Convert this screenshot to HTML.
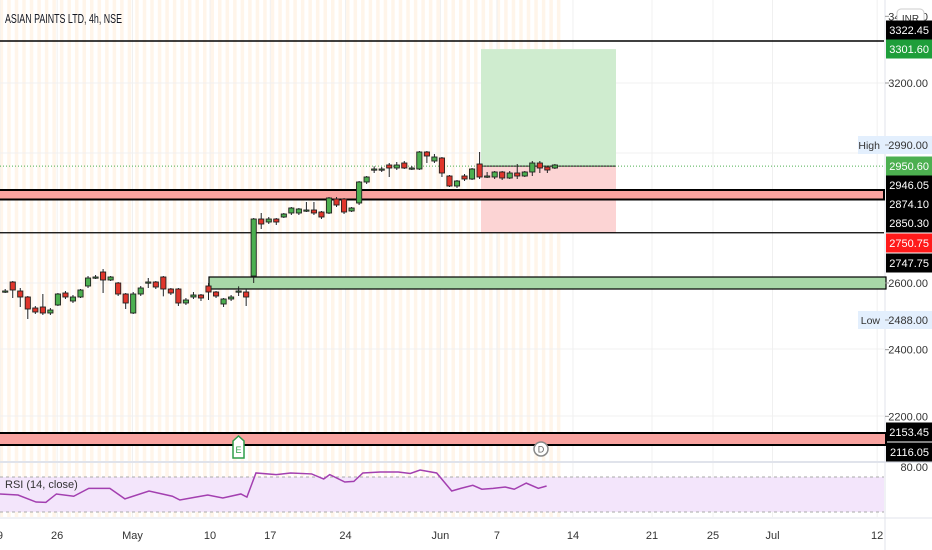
<!DOCTYPE html>
<html><head><meta charset="utf-8"><style>
html,body{margin:0;padding:0;background:#fff;width:932px;height:550px;overflow:hidden}
svg{display:block;font-family:"Liberation Sans",sans-serif}
</style></head><body>
<svg id="c" width="932" height="550" viewBox="0 0 932 550" xmlns="http://www.w3.org/2000/svg">
<g id="bg"></g><g id="grid"></g><g id="levels"></g><g id="candles"></g><g id="rsi"></g><g id="axis"></g>
</svg>
<script>
const opens=[2576,2603,2576,2558,2525,2528,2510,2534,2570,2546,2558,2591,2618,2633,2609,2600,2567,2510,2567,2603,2603,2618,2582,2582,2540,2558,2564,2591,2573,2537,2552,2576,2573,2621,2792,2783,2792,2798,2810,2810,2819,2819,2813,2810,2852,2852,2816,2840,2903,2942,2942,2954,2945,2960,2945,2942,2993,2966,2975,2921,2891,2921,2912,2957,2921,2918,2933,2915,2930,2921,2933,2960,2948,2945];
const closes=[2576,2579,2558,2522,2513,2510,2519,2567,2558,2558,2579,2615,2618,2609,2618,2567,2540,2567,2585,2603,2588,2582,2570,2540,2549,2564,2555,2573,2561,2552,2558,2576,2558,2792,2777,2792,2783,2807,2825,2822,2819,2810,2798,2855,2834,2813,2825,2903,2918,2942,2942,2945,2954,2945,2945,2993,2981,2978,2930,2891,2906,2912,2942,2918,2921,2933,2915,2930,2921,2933,2960,2945,2939,2954];
const highs=[2582,2606,2585,2561,2531,2567,2525,2570,2576,2564,2582,2621,2624,2642,2621,2603,2570,2573,2591,2615,2606,2621,2585,2585,2555,2573,2567,2600,2576,2555,2564,2590,2582,2795,2810,2798,2795,2810,2828,2825,2843,2843,2816,2858,2858,2855,2828,2906,2921,2950,2948,2960,2963,2966,2951,2996,2996,2987,2978,2924,2909,2927,2945,2993,2933,2936,2936,2936,2957,2936,2966,2966,2951,2957];
const lows=[2570,2555,2528,2492,2507,2504,2504,2531,2552,2540,2555,2585,2612,2570,2606,2561,2522,2507,2561,2585,2582,2560,2564,2531,2534,2552,2546,2549,2555,2528,2546,2561,2531,2600,2762,2777,2774,2795,2804,2804,2813,2804,2792,2807,2828,2807,2813,2834,2897,2930,2933,2918,2939,2942,2939,2939,2960,2960,2918,2888,2885,2906,2909,2912,2915,2912,2909,2912,2912,2918,2921,2930,2930,2942];
const rsiIdx=[-0.7,1.7,4.1,5.4,6.8,9.1,11.1,13.9,15.9,19.1,22.2,23.2,25.3,26.9,28.9,31.3,32.1,33.3,36,37.9,40.7,42.3,43.1,45.1,46.3,47.5,49.8,52.2,53.8,55.1,57.3,59.3,60.5,62.1,63.3,64.8,66.4,67.6,69.2,70.8,71.9];
const rsiVal=[50.6,49.4,41.4,41,50.6,48,57,57,45,54,48,43.7,47,49.4,46,50.6,47,74.6,72.7,74.6,73.5,67.7,72.7,64.3,65,74.6,75.7,75.7,74,78,74.6,54,57,60.5,56,57,58.6,56,63,57,59.7];
const dateLabels=["9","26","May","10","17","24","Jun","7","14","21","25","Jul","12"];
const dateIdx=[-0.7,6.9,16.9,27.2,35.2,45.2,57.8,65.3,75.4,85.9,94,101.9,115.8];
const priceTicks=[3400,3200,2600,2400,2200];

const NS="http://www.w3.org/2000/svg";
const X=i=>5.2+i*7.53;
const Y=p=>83+(3200-p)/3;
const RY=v=>477+(70-v)*0.875;
function mk(parent,tag,attrs,txt){const e=document.createElementNS(NS,tag);for(const k in attrs)e.setAttribute(k,attrs[k]);if(txt!==undefined)e.textContent=txt;document.getElementById(parent).appendChild(e);return e;}

for(let i=-1;i<74;i++){
  const s=mk('bg','rect',{x:X(i)+2,y:0,width:3.5,height:517,fill:'#fff5ea'});
  
  
}
[83,153,283,349,416].forEach(y=>{mk('grid','line',{x1:0,x2:884,y1:y,y2:y,stroke:'#f0f0f0'});});
dateIdx.forEach(i=>{mk('grid','line',{x1:X(i),x2:X(i),y1:0,y2:517,stroke:'#f0f0f0'});});
mk('grid','line',{x1:885,x2:885,y1:0,y2:550,stroke:'#e0e3eb'});
mk('grid','line',{x1:0,x2:932,y1:462,y2:462,stroke:'#e0e3eb','stroke-width':2});
mk('grid','line',{x1:0,x2:932,y1:518,y2:518,stroke:'#e0e3eb'});

let e;
e=mk('levels','rect',{x:481,y:Y(3301.6),width:135,height:Y(2950.6)-Y(3301.6),fill:'#cfeccf'});

e=mk('levels','rect',{x:481,y:Y(2950.6),width:135,height:Y(2750.75)-Y(2950.6),fill:'#fcd4d4'});

mk('levels','line',{x1:481,x2:616,y1:Y(2950.6),y2:Y(2950.6),stroke:'#333','stroke-width':1.2});
mk('levels','line',{x1:0,x2:884,y1:Y(2950.6),y2:Y(2950.6),stroke:'#4caf50','stroke-dasharray':'1 2'});
e=mk('levels','line',{x1:0,x2:884,y1:41,y2:41,stroke:'#000','stroke-width':1.5});

e=mk('levels','rect',{x:-2,y:190,width:886,height:9.5,fill:'#f9a3a0',stroke:'#000','stroke-width':2});

e=mk('levels','line',{x1:0,x2:884,y1:Y(2750.75),y2:Y(2750.75),stroke:'#000','stroke-width':1.2});

e=mk('levels','rect',{x:209,y:277,width:677,height:12,fill:'#a8d8a8',stroke:'#000','stroke-width':1.2});

e=mk('levels','rect',{x:-2,y:433,width:888,height:12,fill:'#f9a3a0',stroke:'#000','stroke-width':2});


for(let i=0;i<opens.length;i++){
  const up=closes[i]>=opens[i];const col=up?'#4caf50':'#e0352b';const x=X(i);
  const w=mk('candles','line',{x1:x,x2:x,y1:Y(highs[i]),y2:Y(lows[i]),stroke:'#222','stroke-width':1});
  
  const t=Y(Math.max(opens[i],closes[i]));const h=Math.max(1.2,Y(Math.min(opens[i],closes[i]))-t);
  const b=mk('candles','rect',{x:x-2.6,y:t,width:5.2,height:h,fill:col,stroke:'#222','stroke-width':0.9});
  
}
e=mk('candles','path',{d:'M233,441 L238.5,436 L244,441 L244,458 L233,458 Z',fill:'#fff',stroke:'#2e9e4a','stroke-width':1.5});

mk('candles','text',{x:238.5,y:453,'font-size':9,'text-anchor':'middle',fill:'#2e9e4a'},'E');
e=mk('candles','circle',{cx:541,cy:449,r:7,fill:'#fff',stroke:'#888','stroke-width':1.5});

mk('candles','text',{x:541,y:452.5,'font-size':9,'text-anchor':'middle',fill:'#666'},'D');

e=mk('rsi','rect',{x:0,y:RY(70),width:884,height:RY(30)-RY(70),fill:'#f3e5fb'});

[70,30].forEach(v=>mk('rsi','line',{x1:0,x2:884,y1:RY(v),y2:RY(v),stroke:'#aaa','stroke-dasharray':'3 3'}));
e=mk('rsi','polyline',{points:rsiIdx.map((i,k)=>X(i)+','+RY(rsiVal[k])).join(' '),fill:'none',stroke:'#a33fb0','stroke-width':1.5});

e=mk('rsi','text',{x:5,y:488,'font-size':11,fill:'#333'},'RSI (14, close)');


e=mk('axis','text',{x:5,y:23,'font-size':13,fill:'#131722','textLength':117,'lengthAdjust':'spacingAndGlyphs'},'ASIAN PAINTS LTD, 4h, NSE');


dateLabels.forEach((l,k)=>{const t=mk('axis','text',{x:X(dateIdx[k]),y:539,'font-size':11,'text-anchor':'middle',fill:'#333'},l);
 });

priceTicks.forEach(p=>{const y=Y(p);const t=mk('axis','text',{x:928,y:y+4,'font-size':11,'text-anchor':'end',fill:'#333'},p.toFixed(2));
 
 mk('axis','line',{x1:885,x2:889,y1:y,y2:y,stroke:'#999'});});
mk('axis','text',{x:928,y:471,'font-size':11,'text-anchor':'end',fill:'#333'},'80.00');
e=mk('axis','rect',{x:897,y:9,width:27,height:18,rx:4,fill:'#fff',stroke:'#ccc'});

mk('axis','text',{x:910.5,y:22,'font-size':10,'text-anchor':'middle',fill:'#333'},'INR');
[[145,'High','2990.00'],[320,'Low','2488.00']].forEach(([y,a,b])=>{
 mk('axis','rect',{x:858,y:y-9,width:74,height:18,fill:'#e3effd'});
 mk('axis','text',{x:880,y:y+4,'font-size':10.5,'text-anchor':'end',fill:'#333'},a);
 mk('axis','text',{x:928,y:y+4,'font-size':11,'text-anchor':'end',fill:'#333'},b);
 mk('axis','line',{x1:885,x2:889,y1:y,y2:y,stroke:'#999'});
});
const tags=[[30,'3322.45','#000'],[49,'3301.60','#1e9e3a'],[166,'2950.60','#4caf50'],[185,'2946.05','#000'],[204,'2874.10','#000'],[223,'2850.30','#000'],[243,'2750.75','#ff1a1a'],[263,'2747.75','#000'],[432,'2153.45','#000'],[452,'2116.05','#000']];
tags.forEach(([y,t,c])=>{const r=mk('axis','rect',{x:886,y:y-9.5,width:46,height:19,fill:c});
 
 mk('axis','text',{x:929,y:y+4,'font-size':11,'text-anchor':'end',fill:'#fff'},t);});
</script>
</body></html>
